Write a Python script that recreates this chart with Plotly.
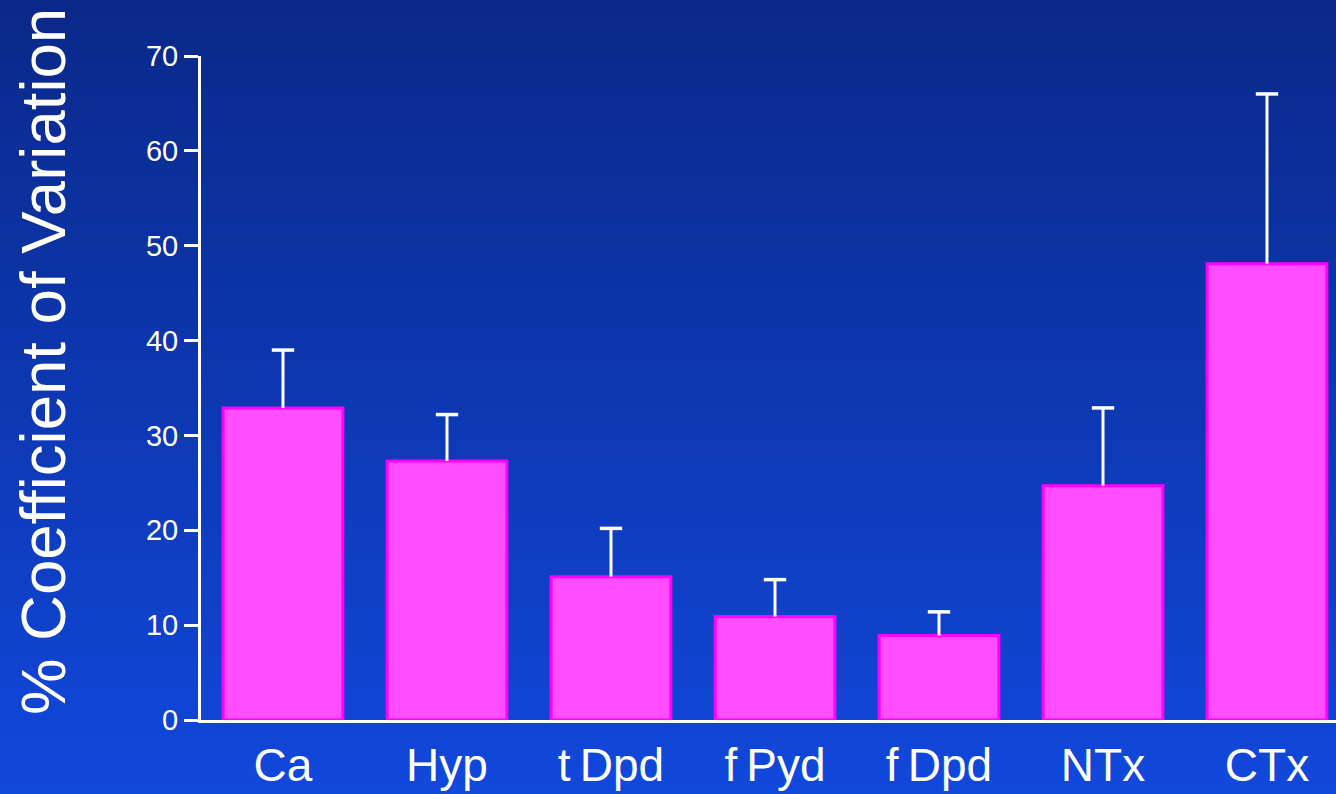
import plotly.graph_objects as go

# ---- data ----
categories = ["Ca", "Hyp", "t\u2009Dpd", "f\u2009Pyd", "f\u2009Dpd", "NTx", "CTx"]
cv_mean = [32.9, 27.3, 15.1, 10.9, 8.9, 24.7, 48.1]
cv_err = [6.1, 4.9, 5.1, 3.9, 2.5, 8.2, 17.9]
y_ticks = [0, 10, 20, 30, 40, 50, 60, 70]
y_title = "% Coefficient of Variation"

# ---- layout geometry ----
W, H = 1336, 794
ML, MR, MT, MB = 201, 0, 56, 74
PW, PH = W - ML - MR, H - MT - MB
FONT = "Liberation Sans, Arial, sans-serif"

fig = go.Figure()

fig.add_trace(go.Bar(
    x=categories, y=cv_mean,
    marker=dict(color="#ff4dff", line=dict(color="#ff00ff", width=3)),
    error_y=dict(type="data", symmetric=False, array=cv_err,
                 arrayminus=[0] * len(cv_err), color="white",
                 thickness=3, width=0),
    hoverinfo="skip", showlegend=False,
))

# caps of the error bars
fig.add_trace(go.Scatter(
    x=categories, y=[m + e for m, e in zip(cv_mean, cv_err)],
    mode="markers",
    marker=dict(symbol="line-ew", size=16, color="white",
                line=dict(color="white", width=3.5)),
    hoverinfo="skip", showlegend=False,
))

# vertical gradient background (paper-referenced strips)
top_rgb = (10, 40, 136)
bot_rgb = (17, 72, 220)
N = 100
shapes = []
x0 = -ML / PW
x1 = 1 + MR / PW
y_top = 1 + MT / PH
y_bot = -MB / PH
for i in range(N):
    t = (i + 0.5) / N
    c = tuple(round(top_rgb[k] + (bot_rgb[k] - top_rgb[k]) * t) for k in range(3))
    ya = y_top - (y_top - y_bot) * i / N
    yb = y_top - (y_top - y_bot) * (i + 1) / N
    shapes.append(dict(type="rect", xref="paper", yref="paper",
                       x0=x0, x1=x1, y0=yb - 0.001, y1=ya + 0.001,
                       fillcolor="rgb(%d,%d,%d)" % c, line=dict(width=0),
                       layer="below"))

fig.update_layout(
    width=W, height=H,
    margin=dict(l=ML, r=MR, t=MT, b=MB, pad=0),
    paper_bgcolor="rgb(13,56,178)",
    plot_bgcolor="rgba(0,0,0,0)",
    shapes=shapes,
    bargap=0.27,
    font=dict(family=FONT, color="white"),
    xaxis=dict(
        range=[-0.5, -0.5 + PW / 164.0],
        showline=True, linecolor="white", linewidth=3,
        ticks="", showgrid=False, zeroline=False,
        tickfont=dict(family=FONT, size=46, color="white"),
        ticklabelstandoff=3,
        fixedrange=True,
    ),
    yaxis=dict(
        range=[0, 70], tickvals=y_ticks,
        showline=True, linecolor="white", linewidth=3,
        ticks="outside", ticklen=14, tickwidth=3, tickcolor="white",
        showgrid=False, zeroline=False,
        tickfont=dict(family=FONT, size=29, color="white"),
        fixedrange=True,
    ),
    annotations=[dict(
        text=y_title, textangle=-90,
        xref="paper", yref="paper",
        x=(43 - ML) / PW, y=1 - (362 - MT) / PH,
        xanchor="center", yanchor="middle",
        showarrow=False,
        font=dict(family=FONT, size=63.5, color="white"),
    )],
)

fig.write_html(
    "out.html",
    config={"displayModeBar": False},
    post_script="document.body.style.margin='0';"
                "document.body.style.overflow='hidden';"
                "document.body.style.background='rgb(13,56,178)';",
)
